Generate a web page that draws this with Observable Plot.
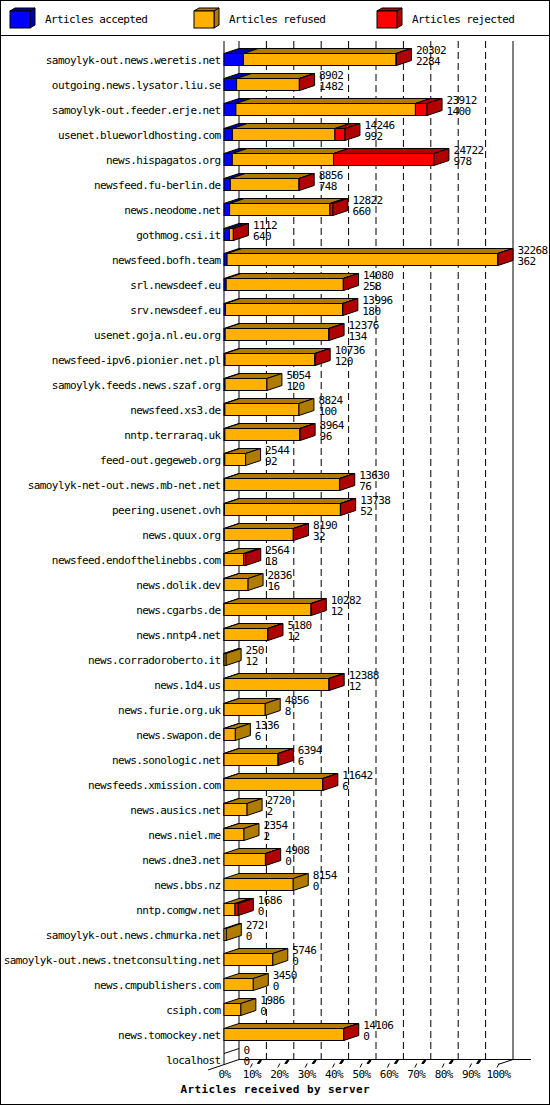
<!DOCTYPE html>
<html><head><meta charset="utf-8">
<script src="https://cdn.jsdelivr.net/npm/d3@7"></script>
<script src="https://cdn.jsdelivr.net/npm/@observablehq/plot@0.6"></script>
<style>
body{margin:0;background:#fff}
#wrap{position:relative;width:550px;height:1105px;background:#fff;overflow:hidden}
#border{position:absolute;left:0;top:0;width:550px;height:1105px;box-sizing:border-box;border:1px solid #000;pointer-events:none;z-index:5}
#legend{position:absolute;left:0;top:0;width:550px;height:36px}
#chart{position:absolute;left:0;top:36px}
</style></head>
<body>
<div id="wrap"><div id="legend"></div><div id="chart"></div><div id="border"></div></div>
<script>
const servers = [
"samoylyk-out.news.weretis.net","outgoing.news.lysator.liu.se","samoylyk-out.feeder.erje.net",
"usenet.blueworldhosting.com","news.hispagatos.org","newsfeed.fu-berlin.de","news.neodome.net",
"gothmog.csi.it","newsfeed.bofh.team","srl.newsdeef.eu","srv.newsdeef.eu","usenet.goja.nl.eu.org",
"newsfeed-ipv6.pionier.net.pl","samoylyk.feeds.news.szaf.org","newsfeed.xs3.de","nntp.terraraq.uk",
"feed-out.gegeweb.org","samoylyk-net-out.news.mb-net.net","peering.usenet.ovh","news.quux.org",
"newsfeed.endofthelinebbs.com","news.dolik.dev","news.cgarbs.de","news.nntp4.net",
"news.corradoroberto.it","news.1d4.us","news.furie.org.uk","news.swapon.de","news.sonologic.net",
"newsfeeds.xmission.com","news.ausics.net","news.niel.me","news.dne3.net","news.bbs.nz",
"nntp.comgw.net","samoylyk-out.news.chmurka.net","samoylyk-out.news.tnetconsulting.net",
"news.cmpublishers.com","csiph.com","news.tomockey.net","localhost"];
const totals = [20302,8902,23912,14246,24722,8856,12822,1112,32268,14080,13996,12376,10736,5054,8824,8964,
2544,13630,13738,8190,2564,2836,10282,5180,250,12388,4856,1336,6394,11642,2720,2354,4908,8154,1686,272,
5746,3450,1986,14106,0];
const accepted = [2284,1482,1400,992,978,748,660,640,362,258,180,134,120,120,100,96,92,76,52,32,18,16,12,12,
12,12,8,6,6,6,2,2,0,0,0,0,0,0,0,0,0];
const rejected = [40,30,1370,1180,11820,20,350,10,20,30,30,30,30,0,0,30,0,30,30,30,250,0,30,30,0,30,0,0,30,30,
0,0,30,0,390,0,0,0,0,30,0];
const seriesNames = ["Articles accepted","Articles refused","Articles rejected"];
const seriesColors = ["#0000ff","#ffb000","#ff0000"];
const shadeColors = ["#0000b0","#b07c00","#b00000"];
const tickLabels = ["0%","10%","20%","30%","40%","50%","60%","70%","80%","90%","100%"];
const xTitle = "Articles received by server";

const maxTotal = d3.max(totals);
const rows = servers.map((s,i)=>({server:s,total:totals[i],acc:accepted[i],rej:rejected[i],ref:totals[i]-accepted[i]-rejected[i]}));
const segs = [];
rows.forEach(r=>{let x=0;[r.acc,r.ref,r.rej].forEach((v,k)=>{if(v>0){segs.push({server:r.server,k,x1:x,x2:x+v});x+=v;}});});

const FONT = "DejaVu Sans Mono";
const DX = 15, DY = 5, INSET = 6.5, FH = 12;

// legend
{
  const lg = d3.select("#legend").append("svg").attr("width",550).attr("height",36);
  lg.append("line").attr("x1",0).attr("x2",550).attr("y1",35.5).attr("y2",35.5).attr("stroke","#000");
  const xs = [10,194,377];
  seriesNames.forEach((n,k)=>{
    const x0 = xs[k], y0 = 11, w = 20, h = 17, dx = 5, dy = 3;
    const g = lg.append("g").attr("stroke","#000").attr("stroke-width",1);
    g.append("polygon").attr("points",`${x0},${y0} ${x0+dx},${y0-dy} ${x0+w+dx},${y0-dy} ${x0+w},${y0}`).attr("fill",shadeColors[k]);
    g.append("polygon").attr("points",`${x0+w},${y0} ${x0+w+dx},${y0-dy} ${x0+w+dx},${y0+h-dy} ${x0+w},${y0+h}`).attr("fill",shadeColors[k]);
    g.append("rect").attr("x",x0).attr("y",y0).attr("width",w).attr("height",h).attr("fill",seriesColors[k]);
    lg.append("text").attr("x",x0+35).attr("y",20).attr("dominant-baseline","middle")
      .attr("font-family",FONT).attr("font-size",11).attr("letter-spacing","-0.6px").text(n);
  });
}

function wall(index, scales) {
  const x = scales.x;
  const g = d3.create("svg:g").attr("fill","none").attr("stroke","#000").attr("stroke-width",1);
  const top = 5, floorBack = 1023.5, floorFront = 1028.5;
  const x0 = x(0), x1 = x(maxTotal);
  for (let k = 1; k < 10; k++) {
    const xb = x(k*maxTotal/10) + DX;
    g.append("line").attr("x1",xb).attr("x2",xb).attr("y1",top).attr("y2",floorBack).attr("stroke-dasharray","7,4");
  }
  g.append("line").attr("x1",x0+DX).attr("x2",x0+DX).attr("y1",top).attr("y2",floorBack);
  g.append("line").attr("x1",x1+DX).attr("x2",x1+DX).attr("y1",top).attr("y2",floorBack);
  g.append("line").attr("x1",x0).attr("x2",x0).attr("y1",top).attr("y2",floorFront);
  g.append("line").attr("x1",x0+DX).attr("x2",x1+DX+18).attr("y1",floorBack).attr("y2",floorBack);
  g.append("line").attr("x1",x0-16).attr("y1",floorFront+5.5).attr("x2",x0+DX).attr("y2",floorBack);
  g.append("line").attr("x1",x1).attr("y1",floorFront).attr("x2",x1+DX).attr("y2",floorBack);
  for (let k = 0; k <= 10; k++) {
    const xf = x(k*maxTotal/10);
    if (k > 0) g.append("line").attr("x1",xf-1).attr("y1",floorFront+3).attr("x2",xf+1).attr("y2",floorFront-1);
    if (k > 0 && k < 10) g.append("polygon").attr("points",`${xf+6},${floorFront-1} ${xf+8},${floorFront-4} ${xf+10},${floorFront-4} ${xf+8},${floorFront-1}`).attr("fill","#000");
  }
  return g.node();
}

function faces(index, scales) {
  const x = scales.x, y = scales.y;
  const g = d3.create("svg:g").attr("stroke","#000").attr("stroke-width",1).attr("stroke-linejoin","miter");
  for (const r of rows) {
    const t = y(r.server) + INSET, b = t + FH;
    const rs = segs.filter(s=>s.server===r.server);
    if (!rs.length) {
      g.append("line").attr("x1",x(0)).attr("y1",t).attr("x2",x(0)+DX).attr("y2",t-DY);
      continue;
    }
    for (const s of rs) {
      const a = x(s.x1), c = x(s.x2);
      g.append("polygon").attr("points",`${a},${t} ${a+DX},${t-DY} ${c+DX},${t-DY} ${c},${t}`).attr("fill",shadeColors[s.k]);
    }
    const last = rs[rs.length-1], e = x(last.x2);
    g.append("polygon").attr("points",`${e},${t} ${e+DX},${t-DY} ${e+DX},${b-DY} ${e},${b}`).attr("fill",shadeColors[last.k]);
  }
  return g.node();
}

const chart = Plot.plot({
  width: 550, height: 1069,
  marginLeft: 224, marginRight: 52, marginTop: 11, marginBottom: 33,
  style: {fontFamily: FONT, fontSize: "11px", background: "transparent"},
  x: {domain: [0, maxTotal], axis: null},
  y: {domain: servers, axis: null, padding: 0},
  color: {type: "identity"},
  marks: [
    wall,
    Plot.barX(segs, {x1: "x1", x2: "x2", y: "server", fill: d => seriesColors[d.k], stroke: "#000", strokeWidth: 1, insetTop: INSET, insetBottom: INSET}),
    faces,
    Plot.text(rows, {x: 0, y: "server", text: "server", textAnchor: "end", dx: -4, fontSize: 11, fill: "#000", style: "letter-spacing:-0.6px"}),
    Plot.text(rows, {x: "total", y: "server", text: d => String(d.total), textAnchor: "start", dx: DX + 4, dy: -9.5, fontSize: 11, fill: "#000"}),
    Plot.text(rows, {x: "total", y: "server", text: d => String(d.acc), textAnchor: "start", dx: DX + 4, dy: 1.5, fontSize: 11, fill: "#000"}),
    Plot.text(tickLabels, {x: (d, i) => i * maxTotal / 10, text: d => d, frameAnchor: "bottom", dy: 5, fontSize: 11, fill: "#000"}),
    Plot.text([xTitle], {text: d => d, frameAnchor: "bottom-left", textAnchor: "start", dx: -44, dy: 20, fontSize: 11, fontWeight: "bold", fill: "#000"})
  ]
});
d3.select(chart).selectAll("text").style("letter-spacing", "-0.6px");
d3.select(chart).selectAll("text").filter(function(){return this.textContent===xTitle;}).style("letter-spacing","0.4px");
document.getElementById("chart").appendChild(chart);
</script>
</body></html>
